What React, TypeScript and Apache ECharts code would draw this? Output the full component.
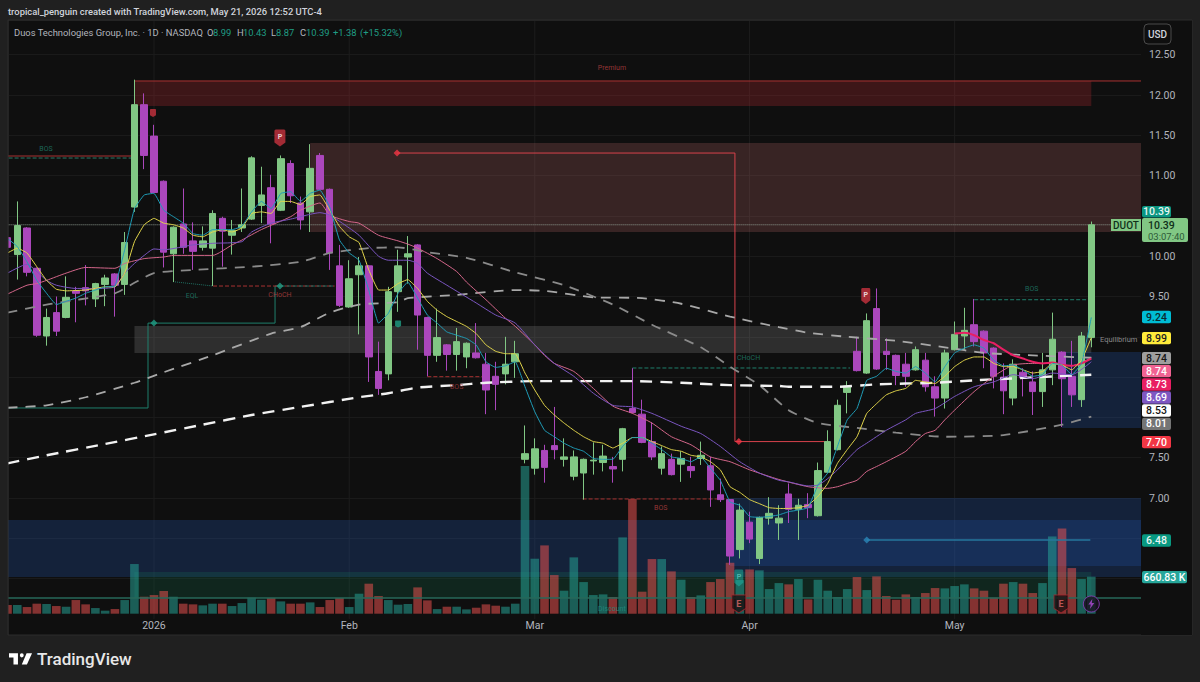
import React, { useEffect, useRef } from "react";
import * as echarts from "echarts";

const categories = [
  "Dec 10","Dec 11","Dec 12","Dec 15","Dec 16","Dec 17","Dec 18","Dec 19","Dec 22","Dec 23","Dec 24","Dec 26","Dec 29","Dec 30","Dec 31",
  "Jan 2","Jan 5","Jan 6","Jan 7","Jan 8","Jan 9","Jan 12","Jan 13","Jan 14","Jan 15","Jan 16","Jan 20","Jan 21","Jan 22","Jan 23","Jan 26","Jan 27","Jan 28","Jan 29","Jan 30",
  "Feb 2","Feb 3","Feb 4","Feb 5","Feb 6","Feb 9","Feb 10","Feb 11","Feb 12","Feb 13","Feb 17","Feb 18","Feb 19","Feb 20","Feb 23","Feb 24","Feb 25","Feb 26","Feb 27",
  "Mar 2","Mar 3","Mar 4","Mar 5","Mar 6","Mar 9","Mar 10","Mar 11","Mar 12","Mar 13","Mar 16","Mar 17","Mar 18","Mar 19","Mar 20","Mar 23","Mar 24","Mar 25","Mar 26","Mar 27","Mar 30","Mar 31",
  "Apr 1","Apr 2","Apr 6","Apr 7","Apr 8","Apr 9","Apr 10","Apr 13","Apr 14","Apr 15","Apr 16","Apr 17","Apr 20","Apr 21","Apr 22","Apr 23","Apr 24","Apr 27","Apr 28","Apr 29","Apr 30",
  "May 1","May 4","May 5","May 6","May 7","May 8","May 11","May 12","May 13","May 14","May 15","May 18","May 19","May 20","May 21",
  "+1","+2","+3","+4","+5",
];
const monthTicks: Record<string, string> = { "Jan 2": "2026", "Feb 2": "Feb", "Mar 2": "Mar", "Apr 1": "Apr", "May 1": "May" };
const priceTicksShown = [12.5, 12, 11.5, 11, 10, 9.5, 7.5, 7];

const opens = [10.23,10.02,10.35,9.85,9.01,9.30,9.24,9.57,9.61,9.47,9.65,9.78,9.65,10.61,11.88,11.49,10.93,10.03,10.40,10.19,10.11,10.10,10.47,10.26,10.35,10.46,10.63,10.85,10.57,11.15,10.66,10.55,11.25,10.83,9.88,9.37,9.77,9.88,8.57,8.54,9.56,9.99,10.14,9.24,8.77,8.90,8.78,8.75,8.80,8.66,8.51,8.54,8.69,7.48,7.37,7.59,7.65,7.48,7.27,7.31,7.46,7.44,7.39,7.48,8.11,8.04,7.70,7.37,7.48,7.42,7.39,7.49,7.40,7.04,6.98,6.36,6.70,6.25,6.75,6.69,7.05,6.86,6.92,6.78,7.32,7.60,8.31,8.82,8.55,9.35,8.82,8.77,8.66,8.59,8.71,8.38,8.24,8.84,9.01,9.15,9.07,8.86,8.50,8.24,8.56,8.44,8.32,8.59,8.81,8.51,8.22,8.99];
const closes = [10.11,10.38,9.80,9.02,9.24,9.07,9.49,9.54,9.57,9.66,9.73,9.64,10.17,11.88,11.25,10.79,10.05,10.36,10.11,10.06,10.19,10.53,10.31,10.32,10.39,11.22,10.76,10.40,11.21,10.75,10.45,11.09,10.83,10.04,9.39,9.72,9.88,8.75,8.36,9.56,9.88,10.03,9.27,8.77,8.99,8.78,8.94,8.92,8.74,8.34,8.41,8.66,8.79,7.55,7.61,7.38,7.60,7.51,7.51,7.48,7.47,7.52,7.36,7.86,8.06,7.69,7.51,7.55,7.29,7.49,7.34,7.53,7.10,6.98,6.28,6.85,6.49,6.76,6.81,6.75,6.86,6.91,6.88,7.34,7.70,8.15,8.39,8.58,9.20,8.60,8.78,8.52,8.51,8.84,8.38,8.24,8.80,9.03,9.08,8.94,8.80,8.51,8.33,8.66,8.49,8.32,8.59,8.97,8.48,8.28,9.01,10.39];
const lows = [10.08,9.71,9.75,9.00,8.89,9.01,9.23,9.18,9.39,9.37,9.38,9.25,9.52,10.55,11.08,10.78,9.86,9.68,10.03,9.83,10.07,9.63,9.87,10.02,10.30,10.45,10.41,10.16,10.56,10.66,10.33,10.30,10.82,9.83,9.37,9.36,9.03,8.44,8.28,8.46,9.31,9.66,8.84,8.51,8.69,8.58,8.58,8.61,8.73,8.04,8.09,8.41,8.49,7.43,7.29,7.19,7.48,7.39,7.22,6.98,7.29,7.33,7.19,7.33,8.05,7.68,7.47,7.29,7.28,7.20,7.25,7.41,6.89,6.95,6.17,6.25,6.44,6.18,6.67,6.48,6.69,6.48,6.75,6.77,7.31,7.59,8.05,8.57,8.54,8.59,8.59,8.40,8.38,8.58,8.32,8.01,8.11,8.83,8.84,8.88,8.61,8.36,8.04,8.15,8.26,8.03,8.13,8.40,7.88,8.13,8.13,8.87];
const highs = [10.25,10.68,10.36,9.86,9.35,9.50,9.75,9.62,9.89,9.67,9.77,9.79,10.30,12.19,12.02,11.63,10.94,10.37,10.84,10.42,10.37,10.57,10.49,10.45,10.84,11.24,11.11,11.01,11.25,11.19,10.74,11.39,11.28,10.84,10.14,9.95,9.99,9.89,8.94,9.62,10.08,10.25,10.15,9.25,9.35,8.91,9.11,8.93,9.17,8.80,8.69,9.00,8.95,7.90,7.74,7.66,8.13,7.74,7.59,7.49,7.69,7.66,7.51,7.87,8.61,8.22,7.94,7.64,7.55,7.58,7.51,7.70,7.51,7.24,6.99,6.93,6.83,6.77,7.01,6.91,7.18,6.99,7.06,7.44,7.84,8.22,8.45,9.00,9.29,9.60,8.98,8.78,8.80,8.88,8.80,8.51,8.84,9.19,9.36,9.47,9.08,8.87,8.67,8.72,8.61,8.57,8.80,9.30,8.82,8.95,9.06,10.43];
const volumesK = [155,155,119,179,173,137,125,244,167,101,54,83,244,887,303,333,405,303,179,167,149,179,179,137,190,286,250,280,220,179,179,202,119,244,280,119,357,536,315,244,161,173,470,238,83,125,125,77,107,167,143,125,179,2636,982,1220,690,411,1006,565,333,345,298,1363,2047,393,976,976,756,607,298,327,565,619,910,601,791,774,440,547,524,619,256,607,411,298,440,655,422,666,315,250,345,298,369,458,452,494,524,452,411,286,536,565,536,369,547,1380,1523,815,619,661];

const fastMA = [[0,10.22],[1,10.12],[2,9.93],[3,9.70],[4,9.54],[5,9.40],[6,9.44],[7,9.48],[8,9.54],[9,9.58],[10,9.62],[11,9.63],[12,10.08],[13,10.59],[14,10.76],[15,10.78],[16,10.57],[17,10.49],[18,10.41],[19,10.28],[20,10.26],[21,10.33],[22,10.33],[23,10.33],[24,10.37],[25,10.55],[26,10.68],[27,10.59],[28,10.78],[29,10.80],[30,10.68],[31,10.78],[32,10.82],[33,10.61],[34,10.20],[35,10.04],[36,9.95],[37,9.58],[38,9.17],[39,9.29],[40,9.54],[41,9.68],[42,9.48],[43,9.27],[44,9.17],[45,9.06],[46,9.02],[47,8.98],[48,8.90],[49,8.69],[50,8.62],[51,8.64],[52,8.69],[53,8.38],[54,8.07],[55,7.84],[56,7.76],[57,7.68],[58,7.62],[59,7.58],[60,7.49],[61,7.48],[62,7.48],[63,7.64],[64,7.75],[65,7.75],[66,7.68],[67,7.60],[68,7.51],[69,7.49],[70,7.45],[71,7.51],[72,7.37],[73,7.22],[74,6.95],[75,6.91],[76,6.77],[77,6.76],[78,6.77],[79,6.79],[80,6.83],[81,6.85],[82,6.88],[83,7.16],[84,7.31],[85,7.64],[86,7.97],[87,8.11],[88,8.46],[89,8.51],[90,8.61],[91,8.57],[92,8.55],[93,8.63],[94,8.55],[95,8.44],[96,8.63],[97,8.80],[98,8.86],[99,8.90],[100,8.86],[101,8.71],[102,8.64],[103,8.65],[104,8.59],[105,8.51],[106,8.53],[107,8.67],[108,8.65],[109,8.53],[110,8.67],[111,9.24]];
const yellowMA = [[0,10.04],[1,10.10],[2,10.04],[3,9.87],[4,9.70],[5,9.59],[6,9.57],[8,9.58],[10,9.62],[11,9.62],[12,9.79],[13,10.18],[14,10.39],[15,10.47],[16,10.41],[17,10.39],[18,10.35],[19,10.26],[20,10.24],[21,10.30],[22,10.33],[23,10.30],[24,10.35],[25,10.53],[26,10.55],[27,10.53],[28,10.68],[29,10.68],[30,10.64],[31,10.74],[32,10.76],[33,10.57],[34,10.37],[35,10.24],[36,10.17],[37,9.83],[38,9.58],[39,9.58],[40,9.66],[41,9.71],[42,9.60],[43,9.44],[44,9.33],[45,9.25],[46,9.19],[47,9.13],[48,9.04],[49,8.90],[50,8.82],[51,8.79],[52,8.79],[53,8.55],[54,8.34],[55,8.15],[56,8.03],[57,7.93],[58,7.84],[59,7.76],[60,7.70],[61,7.68],[62,7.62],[63,7.68],[64,7.75],[65,7.75],[66,7.70],[67,7.65],[68,7.60],[69,7.58],[70,7.53],[71,7.51],[72,7.45],[73,7.35],[74,7.14],[75,7.07],[76,6.98],[77,6.93],[78,6.88],[79,6.87],[80,6.87],[81,6.88],[82,6.91],[83,7.02],[84,7.18],[85,7.43],[86,7.60],[87,7.76],[88,8.05],[89,8.17],[90,8.28],[91,8.33],[92,8.36],[93,8.46],[94,8.44],[95,8.42],[96,8.51],[97,8.63],[98,8.71],[99,8.75],[100,8.75],[101,8.67],[102,8.63],[103,8.63],[104,8.59],[105,8.55],[106,8.57],[107,8.67],[108,8.65],[109,8.59],[110,8.71],[111,8.99]];
const purpleMA = [[0,9.79],[2,9.90],[3,9.81],[4,9.70],[5,9.64],[7,9.60],[9,9.60],[11,9.62],[12,9.79],[13,9.91],[14,10.01],[15,10.09],[16,10.08],[19,10.14],[21,10.16],[24,10.18],[25,10.30],[27,10.41],[29,10.46],[31,10.52],[32,10.54],[33,10.51],[35,10.35],[36,10.26],[38,10.00],[39,9.95],[41,9.95],[42,9.91],[43,9.79],[45,9.64],[48,9.42],[50,9.27],[52,9.17],[54,8.90],[56,8.67],[58,8.51],[60,8.30],[62,8.15],[64,8.13],[66,8.05],[69,7.89],[71,7.80],[73,7.64],[75,7.45],[77,7.31],[79,7.22],[80,7.20],[82,7.15],[83,7.16],[84,7.24],[85,7.35],[87,7.60],[88,7.68],[90,7.84],[92,7.97],[93,8.05],[95,8.11],[97,8.26],[99,8.38],[101,8.44],[103,8.53],[105,8.48],[107,8.55],[109,8.53],[111,8.69]];
const pinkMA = [[0,9.53],[2,9.64],[3,9.66],[4,9.70],[6,9.79],[8,9.86],[11,9.85],[12,9.91],[14,9.97],[16,9.99],[17,10.01],[21,10.01],[23,10.14],[24,10.20],[26,10.33],[29,10.49],[30,10.57],[32,10.66],[33,10.51],[35,10.43],[36,10.41],[38,10.26],[40,10.19],[41,10.15],[42,10.10],[44,9.97],[46,9.81],[47,9.68],[49,9.46],[51,9.23],[52,9.13],[54,8.90],[55,8.77],[56,8.67],[58,8.57],[60,8.36],[62,8.14],[64,8.05],[66,7.93],[68,7.76],[70,7.66],[72,7.51],[74,7.45],[76,7.35],[79,7.23],[82,7.14],[84,7.12],[85,7.14],[86,7.18],[87,7.22],[88,7.33],[89,7.39],[90,7.45],[92,7.58],[93,7.70],[94,7.80],[95,7.84],[96,7.97],[97,8.09],[99,8.32],[101,8.51],[103,8.65],[105,8.67],[107,8.67],[109,8.64],[111,8.74]];
const crimsonMA = [[97,9.04],[98,9.05],[99,9.02],[100,8.96],[101,8.92],[102,8.84],[103,8.77],[104,8.73],[105,8.69],[106,8.67],[107,8.68],[108,8.65],[109,8.64],[110,8.67],[111,8.73]];
const whiteLongMA = [[0,7.43],[4,7.53],[10,7.67],[15,7.79],[20,7.91],[25,8.03],[30,8.13],[36,8.25],[39,8.30],[42,8.37],[46,8.40],[49,8.43],[54,8.45],[59,8.45],[64,8.45],[69,8.43],[74,8.40],[79,8.39],[80,8.38],[85,8.38],[89,8.41],[95,8.43],[99,8.46],[104,8.49],[111,8.53]];
const lightDashMA = [[0,8.12],[4,8.15],[8,8.25],[13,8.43],[16,8.56],[21,8.77],[27,9.04],[30,9.12],[33,9.30],[36,9.40],[40,9.43],[41,9.48],[46,9.52],[52,9.58],[55,9.57],[60,9.49],[65,9.48],[69,9.41],[74,9.25],[79,9.12],[82,9.05],[86,9.00],[91,8.95],[96,8.87],[100,8.80],[105,8.77],[111,8.74]];
const greyDashMA = [[0,9.30],[4,9.40],[11,9.54],[13,9.67],[15,9.79],[19,9.83],[25,9.87],[30,9.93],[33,10.04],[37,10.10],[40,10.11],[43,10.05],[47,9.98],[52,9.80],[57,9.64],[62,9.40],[66,9.15],[71,8.87],[74,8.63],[77,8.40],[80,8.09],[83,7.93],[87,7.87],[91,7.81],[96,7.76],[102,7.78],[108,7.91],[111,8.01]];

const premiumLabel = "Premium";

export default function App() {
  const ref = useRef<HTMLDivElement>(null);
  useEffect(() => {
    const tvMark = "M14 6H0v6h7v10h7V6zm14 16h-8l7.5-16H36l-8 16zM20 12a3 3 0 1 0 0-6 3 3 0 0 0 0 6z";
    echarts.graphic.registerShape("tvmark", echarts.graphic.extendPath(tvMark, {}));
    const chart = echarts.init(ref.current!, null, { renderer: "svg" });
    const FONT = "Roboto";
    const PANE = "#0f0f0f";
    const OUTER = "#202020";

    const annotation = (points: number[][], color: string, width = 1, type: any = "solid", z = 3) => ({
      type: "line", xAxisIndex: 2, yAxisIndex: 0, data: points, showSymbol: false, symbol: "none", silent: true,
      lineStyle: { color, width, type }, z, animation: false,
    });
    const ma = (points: number[][], color: string, width = 1, type: any = "solid", smooth: any = 0.2) => ({
      type: "line", xAxisIndex: 2, yAxisIndex: 0, data: points, showSymbol: false, symbol: "none", silent: true,
      lineStyle: { color, width, type }, z: 5, smooth,
    });
    const zone = (x0: number, x1: number, p0: number, p1: number, color: string) => [
      { xAxis: x0, yAxis: p0, itemStyle: { color, borderWidth: 0 } },
      { xAxis: x1, yAxis: p1 },
    ];

    const tag = (text: string, y0: number, y1: number, fill: string, ink: string, w = 29) => [
      { type: "rect", z: 80, shape: { x: 1142, y: y0, width: w, height: y1 - y0, r: 2 }, style: { fill } },
      { type: "text", z: 81, x: 1142 + w / 2, y: (y0 + y1) / 2, style: { text, fill: ink, font: `500 10.5px ${FONT}`, textAlign: "center", textVerticalAlign: "middle" } },
    ];
    const headText = (x: number, text: string, fill: string) => ({
      type: "text", z: 81, x, y: 32, style: { text, fill, font: `9.4px ${FONT}`, textVerticalAlign: "middle" },
    });

    const flag = "path://M2 0H14Q16 0 16 2V17L8 22L0 17V2Q0 0 2 0Z";
    const shield = "path://M0 0H16V15L8 20L0 15Z";
    const bolt = "path://M9 0L1 11H6L4 20L13 8H8Z";
    const texts = [
      { value: [61.9, 12.335], name: premiumLabel, c: "#b84040" },
      { value: [3.94, 11.33], name: "BOS", c: "#1f7f6c" },
      { value: [18.9, 9.506], name: "EQL", c: "#1f7f6c" },
      { value: [27.9, 9.519], name: "CHoCH", c: "#b84040" },
      { value: [46, 8.377], name: "BOS", c: "#a83a3a" },
      { value: [66.9, 6.876], name: "BOS", c: "#b84040" },
      { value: [75.9, 8.737], name: "CHoCH", c: "#1f7f6c" },
      { value: [104.9, 9.593], name: "BOS", c: "#1f7f6c" },
      { value: [61.9, 5.622], name: "Discount", c: "#1f8f80" },
    ];
    const diamonds = [
      { value: [15, 9.17], c: "#1f9d84", s: 7 },
      { value: [27.9, 9.63], c: "#1f9d84", s: 7 },
      { value: [39.9, 11.28], c: "#f23645", s: 7 },
      { value: [74.9, 7.70], c: "#f23645", s: 7 },
      { value: [88, 6.48], c: "#2a86b8", s: 7 },
    ];

    chart.setOption({
      animation: false,
      backgroundColor: OUTER,
      textStyle: { fontFamily: FONT },
      grid: [
        { left: 2.62, top: 14.4, width: 1142.4, height: 604.5 },
        { left: 2.62, top: 400, width: 1142.4, height: 213.7 },
      ],
      xAxis: [
        { type: "category", gridIndex: 0, data: categories, show: false, boundaryGap: true },
        {
          type: "category", gridIndex: 1, data: categories, boundaryGap: true, z: 70,
          axisLine: { show: false }, axisTick: { show: false }, splitLine: { show: false },
          axisLabel: {
            show: true, interval: (_: number, v: string) => v in monthTicks,
            formatter: (v: string) => monthTicks[v] ?? "",
            color: "#b2b5be", fontSize: 10.5, margin: 6, fontFamily: FONT, hideOverlap: false,
          },
        },
        { type: "value", gridIndex: 0, min: -0.5, max: 116.5, show: false, splitLine: { show: false } },
      ],
      yAxis: [
        {
          type: "value", gridIndex: 0, min: 5.5, max: 13, interval: 0.5, position: "right",
          axisLine: { show: false }, axisTick: { show: false }, axisLabel: { show: false },
          splitLine: { show: true, showMinLine: false, lineStyle: { color: "#1a1a1a", width: 1 } },
        },
        { type: "value", gridIndex: 1, min: 0, max: 3817, show: false, splitLine: { show: false } },
        {
          type: "value", gridIndex: 0, min: 5.5, max: 13, interval: 0.5, position: "right", z: 70,
          axisLine: { show: false }, axisTick: { show: false }, splitLine: { show: false },
          axisLabel: {
            color: "#b2b5be", fontSize: 10.5, margin: 4, fontFamily: FONT,
            formatter: (v: number) => (priceTicksShown.includes(v) ? v.toFixed(2) : ""),
          },
        },
      ],
      series: [
        {
          type: "line", xAxisIndex: 2, yAxisIndex: 0, data: [[0, 5.5]], symbol: "none", lineStyle: { width: 0 }, z: 1,
          markArea: {
            silent: true, z: 1,
            data: [
              zone(13, 111, 12.174, 11.864, "rgba(170,40,45,0.30)"),
              zone(31, 116.5, 11.404, 10.30, "rgba(178,100,100,0.25)"),
              zone(13, 111, 9.134, 8.799, "rgba(255,255,255,0.13)"),
              zone(108, 116.5, 8.811, 7.868, "rgba(33,80,160,0.30)"),
              zone(-0.5, 116.5, 6.727, 6.02, "rgba(33,80,160,0.30)"),
              zone(74, 116.5, 7.0, 6.156, "rgba(33,80,160,0.30)"),
              zone(13, 111, 6.082, 5.759, "rgba(20,130,90,0.20)"),
            ],
          },
        },
        ...[15, 35, 54, 76, 97].map((i) => annotation([[i, 5.5], [i, 13]], "#1d1d1d", 1, "solid", 0)),
        annotation([[13, 12.174], [116.5, 12.174]], "#a83232"),
        annotation([[-0.5, 10.39], [116.5, 10.39]], "#8d9a8f", 1, "dotted"),
        annotation([[-0.5, 11.243], [13, 11.243]], "#a83232"),
        annotation([[-0.5, 11.218], [13, 11.218]], "#2a7a68", 1, "dashed"),
        annotation([[-0.5, 8.117], [14.39, 8.117], [14.39, 9.17], [27.4, 9.17], [27.4, 9.63], [27.9, 9.63]], "#1f7f6c"),
        annotation([[16.95, 9.684], [21.05, 9.63]], "#1f6f62", 1, "dotted"),
        annotation([[21.05, 9.63], [33.5, 9.63]], "#a83232", 1, "dashed"),
        annotation([[28, 9.63], [33.5, 9.63]], "#1f6f62", 1, "dashed"),
        annotation([[39.9, 11.28], [74.5, 11.28], [74.5, 7.70], [83.7, 7.70]], "#d8434c"),
        annotation([[43, 8.505], [48.6, 8.505]], "#a83232", 1, "dashed"),
        annotation([[58.9, 6.988], [73.7, 6.988]], "#a83232", 1, "dashed"),
        annotation([[64, 8.613], [86.3, 8.613]], "#1f7f6c", 1, "dashed"),
        annotation([[99, 9.46], [111, 9.46]], "#1f7f6c", 1, "dashed"),
        annotation([[88, 6.48], [110.9, 6.48]], "#26779c", 1.5),
        annotation([[-0.5, 5.759], [116.5, 5.759]], "#27695a", 1.5),
        {
          type: "bar", xAxisIndex: 1, yAxisIndex: 1, barWidth: 8.6, z: 2, silent: true,
          data: volumesK.map((v, i) => ({
            value: v,
            itemStyle: { color: closes[i] >= opens[i] ? "rgba(38,166,154,0.52)" : "rgba(239,83,80,0.52)" },
          })),
        },
        {
          type: "candlestick", xAxisIndex: 0, yAxisIndex: 0, barWidth: 7, z: 4, silent: true,
          data: opens.map((o, i) => [o, closes[i], lows[i], highs[i]]),
          itemStyle: { color: "#81c784", color0: "#ab47bc", borderColor: "#81c784", borderColor0: "#ab47bc", borderWidth: 1 },
        },
        ma(greyDashMA, "#8a8a8a", 1.8, [10, 8]),
        ma(lightDashMA, "#a8a8a8", 1.8, [10, 8]),
        ma(whiteLongMA, "#f2f2f2", 2.4, [12, 8]),
        ma(pinkMA, "#d4668a"),
        ma(purpleMA, "#7a55c0"),
        ma(crimsonMA, "#e91e63", 2),
        ma(yellowMA, "#e3d64b", 1, "solid", 0.1),
        ma(fastMA, "#1f9db8", 1, "solid", 0.1),
        {
          type: "scatter", xAxisIndex: 2, yAxisIndex: 0, symbolSize: 1, z: 6, silent: true,
          itemStyle: { color: "transparent" },
          data: texts.map((t) => ({
            value: t.value, name: t.name,
            label: { show: true, position: "inside", formatter: t.name, color: t.c, fontSize: 7, fontFamily: FONT },
          })),
        },
        {
          type: "scatter", xAxisIndex: 2, yAxisIndex: 0, symbol: "diamond", z: 6, silent: true,
          data: diamonds.map((d) => ({ value: d.value, symbolSize: d.s, itemStyle: { color: d.c } })),
        },
        {
          type: "scatter", xAxisIndex: 2, yAxisIndex: 0, z: 7, silent: true,
          data: [
            { value: [27.9, 11.467], symbol: flag, symbolSize: [11, 17], itemStyle: { color: "#c8323f" }, label: { show: true, position: "inside", formatter: "P", color: "#fff", fontSize: 7, fontWeight: 700, offset: [0, -1] } },
            { value: [87.9, 9.506], symbol: flag, symbolSize: [9, 16], itemStyle: { color: "#c8323f" }, label: { show: true, position: "inside", formatter: "P", color: "#fff", fontSize: 7, fontWeight: 700, offset: [0, -1] } },
            { value: [14.9, 11.777], symbol: flag, symbolSize: [6, 8], itemStyle: { color: "#c8323f" } },
            { value: [40, 9.159], symbol: flag, symbolSize: [6, 7], itemStyle: { color: "#1f9d84" } },
            { value: [74.9, 6.007], symbol: flag, symbolSize: [9, 17], itemStyle: { color: "rgba(30,180,165,0.65)" }, label: { show: true, position: "inside", formatter: "P", color: "#7fe0d2", fontSize: 7, offset: [0, -1] } },
            { value: [74.9, 5.685], symbol: shield, symbolSize: [14, 18], itemStyle: { color: "#1a1012", borderColor: "#a8262e", borderWidth: 1 }, label: { show: true, position: "inside", formatter: "E", color: "#e06a6a", fontSize: 9, fontWeight: 700 } },
            { value: [107.9, 5.685], symbol: shield, symbolSize: [14, 18], itemStyle: { color: "#1a1012", borderColor: "#a8262e", borderWidth: 1 }, label: { show: true, position: "inside", formatter: "E", color: "#e06a6a", fontSize: 9, fontWeight: 700 } },
            { value: [111, 5.685], symbol: "circle", symbolSize: 16, itemStyle: { color: "#1a1020", borderColor: "#8e3fc0", borderWidth: 1 } },
            { value: [111, 5.685], symbol: bolt, symbolSize: [6, 10], itemStyle: { color: "#b14cd8" } },
          ],
        },
      ],
      graphic: [
        { type: "rect", z: -10, shape: { x: 8, y: 20, width: 1184, height: 615 }, style: { fill: PANE, stroke: "#2c2c2c", lineWidth: 1 } },
        { type: "rect", z: 50, shape: { x: 0, y: 0, width: 1200, height: 20 }, style: { fill: OUTER } },
        { type: "rect", z: 50, shape: { x: 0, y: 0, width: 8, height: 682 }, style: { fill: OUTER } },
        { type: "rect", z: 50, shape: { x: 1141, y: 20, width: 51, height: 615 }, style: { fill: PANE } },
        { type: "line", z: 51, shape: { x1: 8, y1: 20, x2: 1192, y2: 20 }, style: { stroke: "#2c2c2c", lineWidth: 1 } },
        { type: "line", z: 51, shape: { x1: 8, y1: 20, x2: 8, y2: 635 }, style: { stroke: "#2c2c2c", lineWidth: 1 } },
        { type: "text", z: 81, x: 8, y: 11, style: { text: "tropical_penguin created with TradingView.com, May 21, 2026 12:52 UTC-4", fill: "#d1d4dc", font: `500 9.4px ${FONT}`, textVerticalAlign: "middle" } },
        headText(14, "Duos Technologies Group, Inc. · 1D · NASDAQ", "#b2b5be"),
        headText(207, "O", "#b2b5be"), headText(213, "8.99", "#1f9d84"),
        headText(237, "H", "#b2b5be"), headText(243, "10.43", "#1f9d84"),
        headText(271, "L", "#b2b5be"), headText(276, "8.87", "#1f9d84"),
        headText(300, "C", "#b2b5be"), headText(306, "10.39", "#1f9d84"),
        headText(333, "+1.38", "#1f9d84"), headText(360, "(+15.32%)", "#1f9d84"),
        { type: "rect", z: 80, shape: { x: 1144, y: 24, width: 27, height: 20, r: 4 }, style: { fill: PANE, stroke: "#4a4a4a", lineWidth: 1 } },
        { type: "text", z: 81, x: 1157.5, y: 34, style: { text: "USD", fill: "#d1d4dc", font: `500 10px ${FONT}`, textAlign: "center", textVerticalAlign: "middle" } },
        ...tag("10.39", 206, 217.5, "#0b9681", "#e8f5f2"),
        { type: "rect", z: 80, shape: { x: 1111, y: 219, width: 30, height: 12 }, style: { fill: "#81c784" } },
        { type: "text", z: 81, x: 1126, y: 225, style: { text: "DUOT", fill: "#10301a", font: `500 10px ${FONT}`, textAlign: "center", textVerticalAlign: "middle" } },
        { type: "rect", z: 80, shape: { x: 1142, y: 218, width: 46, height: 24, r: 2 }, style: { fill: "#81c784" } },
        { type: "text", z: 81, x: 1148, y: 225, style: { text: "10.39", fill: "#10301a", font: `500 10.5px ${FONT}`, textVerticalAlign: "middle" } },
        { type: "text", z: 81, x: 1148, y: 236, style: { text: "03:07:40", fill: "#2d5a38", font: `9.5px ${FONT}`, textVerticalAlign: "middle" } },
        { type: "text", z: 81, x: 1100, y: 339, style: { text: "Equilibrium", fill: "#8a8a8a", font: `7.5px ${FONT}`, textVerticalAlign: "middle" } },
        ...tag("9.24", 310.7, 323.3, "#00bcd4", "#0b2a30"),
        ...tag("8.99", 332, 344.3, "#ffeb3b", "#222"),
        ...tag("8.74", 352, 364.3, "#9e9e9e", "#151515"),
        ...tag("8.74", 365, 377.3, "#f06292", "#fff"),
        ...tag("8.73", 378.3, 390.7, "#e91e63", "#fff"),
        ...tag("8.69", 391.3, 403.7, "#7e57c2", "#fff"),
        ...tag("8.53", 404.3, 416.7, "#ffffff", "#151515"),
        ...tag("8.01", 417.7, 430, "#757575", "#fff"),
        ...tag("7.70", 436, 448.3, "#f23645", "#fff"),
        ...tag("6.48", 534.3, 546.7, "#089981", "#e8f5f2"),
        ...tag("660.83 K", 571, 583.3, "#26a69a", "#fff", 45),
        { type: "tvmark", z: 81, x: 9, y: 649, scaleX: 0.64, scaleY: 0.7, style: { fill: "#ffffff" } },
        { type: "text", z: 81, x: 37, y: 659, style: { text: "TradingView", fill: "#e8e8e8", font: `500 17px ${FONT}`, textVerticalAlign: "middle" } },
      ],
    });
    return () => chart.dispose();
  }, []);
  return <div ref={ref} style={{ position: "absolute", left: 0, top: 0, width: 1200, height: 682 }} />;
}
